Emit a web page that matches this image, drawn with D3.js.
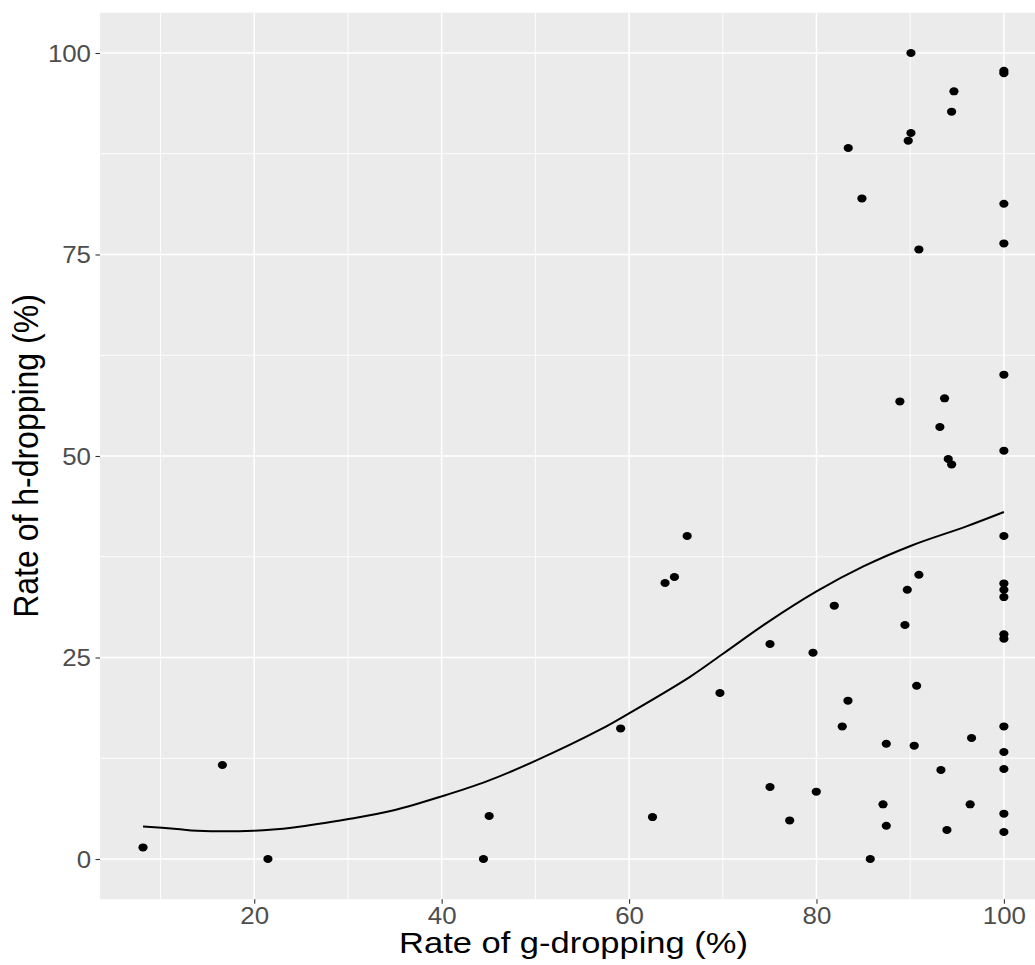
<!DOCTYPE html>
<html>
<head>
<meta charset="utf-8">
<script src="https://cdn.jsdelivr.net/npm/d3@7"></script>
<style>
    body { margin: 0; background: #ffffff; }
    text { font-family: "Liberation Sans", Arial, sans-serif; }
</style>
</head>
<body>
<svg id="chart" width="1035" height="965"></svg>
<script>
// data
var gDrop = [8.13, 16.6, 21.46, 44.46, 45.07, 59.1, 62.5, 63.84, 64.84, 66.2,
    69.7, 75.04, 75.04, 77.14, 79.63, 79.98, 81.9, 82.75, 83.36, 85.74,
    87.1, 87.45, 87.45, 89.44, 89.69, 90.43, 90.69, 90.93, 93.28, 93.92,
    96.4, 96.55, 88.9, 93.67, 93.17, 94.06, 94.42, 90.08, 94.67, 94.42,
    90.08, 89.79, 83.39, 84.85, 90.93,
    100, 100, 100, 100, 100, 100, 100, 100, 100, 100, 100,
    100, 100, 100, 100, 100, 100];
var hDrop = [1.44, 11.66, 0, 0, 5.33, 16.2, 5.2, 34.24, 34.99, 40.07,
    20.6, 26.67, 8.93, 4.79, 25.6, 8.35, 31.43, 16.45, 19.64, 0,
    6.78, 14.3, 4.13, 29.03, 33.4, 14.06, 21.5, 35.27, 11.04, 3.6,
    6.78, 15.01, 56.77, 57.15, 53.6, 49.63, 48.96, 100, 95.24, 92.72,
    90.07, 89.12, 88.21, 81.96, 75.63,
    40.07, 34.19, 33.41, 32.5, 27.87, 27.33, 16.45, 13.28, 11.17, 5.62, 3.35,
    60.09, 50.66, 97.5, 97.8, 81.3, 76.38];

// loess smooth line
var smoothX = [8.13, 11.75, 13.9, 19.9, 24.2, 30.07, 34.9, 40, 44.8, 50.05,
    56.9, 60.04, 66.5, 70.06, 74.7, 80, 85, 90.1, 96, 100];
var smoothY = [4.04, 3.72, 3.51, 3.51, 3.92, 4.96, 6.05, 7.77, 9.63, 12.2,
    16.04, 18.1, 22.6, 25.5, 29.3, 33.2, 36.3, 38.87, 41.27, 43.05];

var xTicks = [20, 40, 60, 80, 100];
var xMinor = [10, 30, 50, 70, 90];
var yTicks = [0, 25, 50, 75, 100];
var yMinor = [12.5, 37.5, 62.5, 87.5];

var xTitle = "Rate of g-dropping (%)";
var yTitle = "Rate of h-dropping (%)";

var svg = d3.select("#chart");
// panel edges (right edge runs past the picture, as in the original)
var pLeft = 100, pRight = 1047, pTop = 12.7, pBottom = 899.3;

var x = d3.scaleLinear().domain([3.54, 104.6]).range([pLeft, pRight]);
var y = d3.scaleLinear().domain([-5, 105]).range([pBottom, pTop]);

// panel background
svg.append("rect")
    .attr("x", pLeft).attr("y", pTop)
    .attr("width", pRight - pLeft).attr("height", pBottom - pTop)
    .attr("fill", "#EBEBEB");

// grid lines, minor first
svg.selectAll(".xminor").data(xMinor).enter().append("line")
    .attr("x1", d => x(d)).attr("x2", d => x(d))
    .attr("y1", pTop).attr("y2", pBottom)
    .attr("stroke", "#ffffff").attr("stroke-width", 0.9);
svg.selectAll(".yminor").data(yMinor).enter().append("line")
    .attr("y1", d => y(d)).attr("y2", d => y(d))
    .attr("x1", pLeft).attr("x2", pRight)
    .attr("stroke", "#ffffff").attr("stroke-width", 0.9);
svg.selectAll(".xmajor").data(xTicks).enter().append("line")
    .attr("x1", d => x(d)).attr("x2", d => x(d))
    .attr("y1", pTop).attr("y2", pBottom)
    .attr("stroke", "#ffffff").attr("stroke-width", 1.5);
svg.selectAll(".ymajor").data(yTicks).enter().append("line")
    .attr("y1", d => y(d)).attr("y2", d => y(d))
    .attr("x1", pLeft).attr("x2", pRight)
    .attr("stroke", "#ffffff").attr("stroke-width", 1.5);

// axes (tick marks + labels)
var xAxis = svg.append("g")
    .attr("transform", `translate(0,${pBottom})`)
    .call(d3.axisBottom(x).tickValues(xTicks).tickSize(4.5).tickPadding(6));
var yAxis = svg.append("g")
    .attr("transform", `translate(${pLeft},0)`)
    .call(d3.axisLeft(y).tickValues(yTicks).tickSize(4.5).tickPadding(5));

[xAxis, yAxis].forEach(function (ax) {
    ax.attr("font-size", null).attr("font-family", null);
    ax.select(".domain").remove();
    ax.selectAll(".tick line").attr("stroke", "#333333").attr("stroke-width", 1.1);
    ax.selectAll(".tick text")
        .attr("fill", "#4D4D4D")
        .style("font-size", "23.5px");
});
// picture is a bit wider than tall, stretch the text a little
xAxis.selectAll(".tick text")
    .attr("y", null).attr("dy", null)
    .attr("transform", "translate(0,24.5) scale(1.1,1)");
yAxis.selectAll(".tick text")
    .attr("x", null).attr("dy", null)
    .attr("transform", "translate(-9,8.4) scale(1.1,1)");

// points
svg.selectAll(".dot")
    .data(d3.range(gDrop.length))
    .enter().append("ellipse")
    .attr("cx", i => x(gDrop[i]))
    .attr("cy", i => y(hDrop[i]))
    .attr("rx", 4.6).attr("ry", 4)
    .attr("fill", "#000000");

// smooth line
var line = d3.line()
    .x(i => x(smoothX[i]))
    .y(i => y(smoothY[i]))
    .curve(d3.curveCatmullRom);
svg.append("path")
    .datum(d3.range(smoothX.length))
    .attr("d", line)
    .attr("fill", "none")
    .attr("stroke", "#000000")
    .attr("stroke-width", 2);

// axis titles
svg.append("text")
    .attr("transform", `translate(${(pLeft + pRight) / 2},953) scale(1.15,1)`)
    .attr("text-anchor", "middle")
    .style("font-size", "30px")
    .attr("fill", "#000000")
    .text(xTitle);
svg.append("text")
    .attr("transform", `translate(38,${(pTop + pBottom) / 2}) rotate(-90) scale(1,1.1)`)
    .attr("text-anchor", "middle")
    .style("font-size", "32px")
    .attr("fill", "#000000")
    .text(yTitle);
</script>
</body>
</html>
